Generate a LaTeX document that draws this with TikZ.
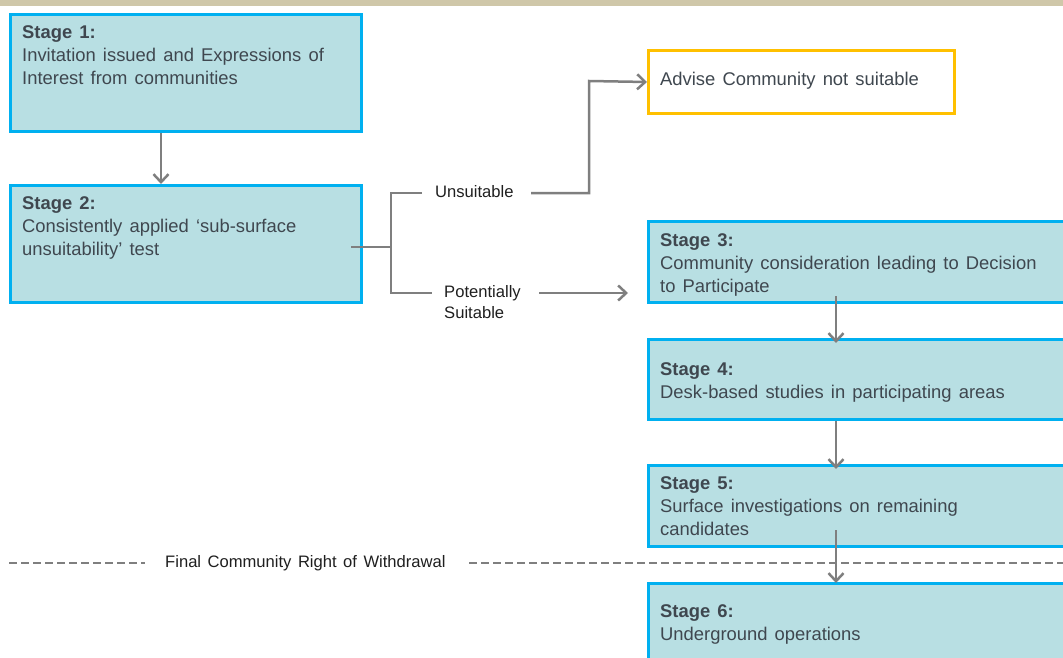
\documentclass[tikz,border=0pt]{standalone}
\usepackage{fontspec}
\setmainfont{Liberation Sans}[WordSpace=1.4]
\usetikzlibrary{arrows.meta}
\definecolor{boxfill}{HTML}{B8DFE3}
\definecolor{boxedge}{HTML}{00B0F0}
\definecolor{advedge}{HTML}{FFC000}
\definecolor{txtgray}{HTML}{3F474F}
\definecolor{conngray}{HTML}{7F7F7F}
\definecolor{bandtan}{HTML}{CFC7A9}
\begin{document}
\begin{tikzpicture}[x=1pt,y=-1pt,
  stagebox/.style={draw=boxedge, fill=boxfill, line width=3pt, inner sep=0pt, anchor=north west},
  advbox/.style={draw=advedge, fill=white, line width=3pt, inner sep=0pt, anchor=north west},
  stagetext/.style={font=\fontsize{18.4}{23}\selectfont, text=txtgray, align=left, inner sep=0pt},
  lbl/.style={font=\fontsize{16.6}{21}\selectfont, text=black!88, align=left, inner sep=0pt},
  connline/.style={draw=conngray, line width=2.5pt},
  arr/.style={connline, -{Straight Barb[length=8pt,width=15pt,line width=2.5pt]}},
  dashln/.style={draw=conngray, line width=2.2pt, dash pattern=on 8pt off 4pt},
]
\path[use as bounding box, clip] (0,0) rectangle (1063,658);
\fill[bandtan] (0,0) rectangle (1063,6);

% boxes
\node[stagebox, minimum width=351pt, minimum height=117pt] (s1) at (9,13) {};
\node[stagebox, minimum width=351pt, minimum height=117pt] (s2) at (9,184) {};
\node[advbox, minimum width=306pt, minimum height=63pt] (adv) at (647,49) {};
\node[stagebox, minimum width=430pt, minimum height=81pt] (s3) at (647,220) {};
\node[stagebox, minimum width=430pt, minimum height=80pt] (s4) at (647,338) {};
\node[stagebox, minimum width=430pt, minimum height=81pt] (s5) at (647,464) {};
\node[stagebox, minimum width=430pt, minimum height=100pt] (s6) at (647,582) {};

% texts
\node[stagetext, anchor=north west] (t1) at (22,25) {\textbf{Stage 1:}\\Invitation issued and Expressions of\\Interest from communities};
\node[stagetext, anchor=north west] (t2) at (22,196) {\textbf{Stage 2:}\\Consistently applied ‘sub-surface\\unsuitability’ test};
\node[stagetext, anchor=west] (tadv) at (660,81) {Advise Community not suitable};
\node[stagetext, anchor=north west] (t3) at (660,233) {\textbf{Stage 3:}\\Community consideration leading to Decision\\to Participate};
\node[stagetext, anchor=north west] (t4) at (660,362) {\textbf{Stage 4:}\\Desk-based studies in participating areas};
\node[stagetext, anchor=north west] (t5) at (660,476) {\textbf{Stage 5:}\\Surface investigations on remaining\\candidates};
\node[stagetext, anchor=north west] (t6) at (660,604) {\textbf{Stage 6:}\\Underground operations};

% labels
\node[lbl, anchor=west] (u) at (435,192) {Unsuitable};
\node[lbl, anchor=north west] (p) at (444,285) {Potentially\\Suitable};
\node[lbl, anchor=west] (fw) at (165,563) {Final Community Right of Withdrawal};

% connector coordinates
\coordinate (a1) at (161,0);
\coordinate (a3) at (836,0);
\coordinate (b0) at (351,247);
\coordinate (j) at (391,247);
\coordinate (jt) at (391,193);
\coordinate (jb) at (391,293);
\coordinate (ut) at (422,193);
\coordinate (ua) at (531,193);
\coordinate (uc) at (589,81);
\coordinate (pt) at (432,293);
\coordinate (pa) at (539,293);
\coordinate (pb) at (628,293);
\coordinate (dl0) at (9,563);
\coordinate (dl1) at (145,563);
\coordinate (dl2) at (469,563);
\coordinate (dl3) at (1063,563);

% dashed line
\draw[dashln] (dl0) -- (dl1);
\draw[dashln] (dl2) -- (dl3);

% connectors
\draw[arr] (s1.south -| a1) -- (s2.north -| a1);
\draw[connline] (b0) -- (j);
\draw[connline] (ut) -- (jt) -- (jb) -- (pt);
\draw[arr] (ua) -| (uc) -- (adv.west);
\draw[arr] (pa) -- (pb);
\draw[arr] ([yshift=8pt]s3.south -| a3) -- ([yshift=-5pt]s4.north -| a3);
\draw[arr] (s4.south -| a3) -- ([yshift=-5pt]s5.north -| a3);
\draw[arr] ([yshift=18pt]s5.south -| a3) -- ([yshift=-1pt]s6.north -| a3);
\end{tikzpicture}
\end{document}
